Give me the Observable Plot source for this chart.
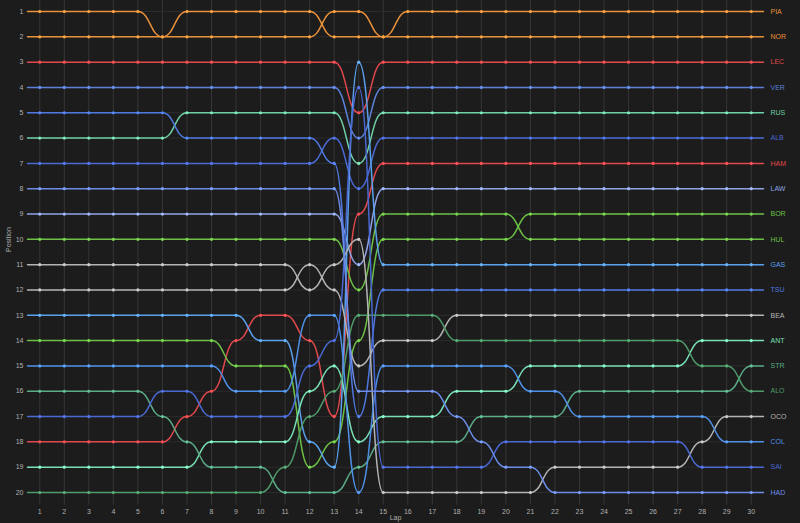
<!DOCTYPE html>
<html><head><meta charset="utf-8">
<script src="https://cdn.jsdelivr.net/npm/d3@7"></script>
<script src="https://cdn.jsdelivr.net/npm/@observablehq/plot@0.6"></script>
<style>
body{margin:0;background:#1c1c1c;}
#chart svg{display:block;}
</style>
</head><body><div id="chart"></div>
<script>
const laps = d3.range(1, 31);
const positionTicks = d3.range(1, 21);

const drivers = ["PIA","NOR","LEC","VER","RUS","ALB","HAM","LAW","BOR","HUL","GAS","TSU","BEA","ANT","STR","ALO","OCO","COL","SAI","HAD"];
const driverColors = ["#e8913a","#e8913a","#e0484c","#5b80d6","#6fd0a6","#4a6ad4","#e0484c","#8fa3e6","#6cc046","#6cc046","#5aa0ec","#4f78e0","#b4b4b4","#78e0b4","#5aab86","#4f9a6a","#b4b4b4","#4f90e6","#4a68d2","#6c8ce8"];

const pos_PIA = [1,1,1,1,1,2,1,1,1,1, 1,1,2,2,2,1,1,1,1,1, 1,1,1,1,1,1,1,1,1,1];
const pos_NOR = [2,2,2,2,2,2,2,2,2,2, 2,2,1,1,2,2,2,2,2,2, 2,2,2,2,2,2,2,2,2,2];
const pos_LEC = [3,3,3,3,3,3,3,3,3,3, 3,3,3,5,3,3,3,3,3,3, 3,3,3,3,3,3,3,3,3,3];
const pos_VER = [4,4,4,4,4,4,4,4,4,4, 4,4,4,6,4,4,4,4,4,4, 4,4,4,4,4,4,4,4,4,4];
const pos_RUS = [6,6,6,6,6,6,5,5,5,5, 5,5,5,7,5,5,5,5,5,5, 5,5,5,5,5,5,5,5,5,5];
const pos_ALB = [7,7,7,7,7,7,7,7,7,7, 7,7,6,8,6,6,6,6,6,6, 6,6,6,6,6,6,6,6,6,6];
const pos_HAM = [18,18,18,18,18,18,17,16,14,13, 13,14,17,9,7,7,7,7,7,7, 7,7,7,7,7,7,7,7,7,7];
const pos_LAW = [9,9,9,9,9,9,9,9,9,9, 9,9,9,11,8,8,8,8,8,8, 8,8,8,8,8,8,8,8,8,8];
const pos_BOR = [14,14,14,14,14,14,14,14,15,15, 15,19,18,14,10,10,10,10,10,10, 9,9,9,9,9,9,9,9,9,9];
const pos_HUL = [10,10,10,10,10,10,10,10,10,10, 10,10,10,12,9,9,9,9,9,9, 10,10,10,10,10,10,10,10,10,10];
const pos_GAS = [13,13,13,13,13,13,13,13,13,14, 14,18,19,3,11,11,11,11,11,11, 11,11,11,11,11,11,11,11,11,11];
const pos_TSU = [5,5,5,5,5,5,6,6,6,6, 6,6,7,17,12,12,12,12,12,12, 12,12,12,12,12,12,12,12,12,12];
const pos_BEA = [12,12,12,12,12,12,12,12,12,12, 12,11,12,15,14,14,14,13,13,13, 13,13,13,13,13,13,13,13,13,13];
const pos_ANT = [19,19,19,19,19,19,19,18,18,18, 18,16,15,18,17,17,17,16,16,16, 15,15,15,15,15,15,15,14,14,14];
const pos_STR = [16,16,16,16,16,17,18,19,19,19, 20,20,20,19,18,18,18,18,17,17, 17,17,16,16,16,16,16,16,16,15];
const pos_ALO = [20,20,20,20,20,20,20,20,20,20, 19,17,16,13,13,13,13,14,14,14, 14,14,14,14,14,14,14,15,15,16];
const pos_OCO = [11,11,11,11,11,11,11,11,11,11, 11,12,11,10,20,20,20,20,20,20, 20,19,19,19,19,19,19,18,17,17];
const pos_COL = [15,15,15,15,15,15,15,15,16,16, 16,13,13,20,15,15,15,15,15,15, 16,16,17,17,17,17,17,17,18,18];
const pos_SAI = [17,17,17,17,17,16,16,17,17,17, 17,15,14,4,19,19,19,19,19,18, 18,18,18,18,18,18,18,19,19,19];
const pos_HAD = [8,8,8,8,8,8,8,8,8,8, 8,8,8,16,16,16,16,17,18,19, 19,20,20,20,20,20,20,20,20,20];

const positionArrays = [pos_PIA,pos_NOR,pos_LEC,pos_VER,pos_RUS,pos_ALB,pos_HAM,pos_LAW,pos_BOR,pos_HUL,pos_GAS,pos_TSU,pos_BEA,pos_ANT,pos_STR,pos_ALO,pos_OCO,pos_COL,pos_SAI,pos_HAD];

const W = 800, H = 523;
const marks = [];

// grid
marks.push(Plot.ruleY(positionTicks, {x1: 0.5, x2: 30.5, stroke: "#2c2c2c", strokeWidth: 1}));
marks.push(Plot.ruleX(laps, {y1: 0.5, y2: 20.5, stroke: "#363636", strokeWidth: 1}));

drivers.forEach((d, i) => {
  const p = positionArrays[i];
  const c = driverColors[i];
  const rows = laps.map((lap, j) => ({lap, pos: p[j]}));
  const lineRows = [{lap: 0.5, pos: p[0]}, ...rows, {lap: 30.5, pos: p[29]}];
  marks.push(Plot.line(lineRows, {x: "lap", y: "pos", stroke: c, strokeWidth: 1.5, curve: "bump-x"}));
  marks.push(Plot.dot(rows, {x: "lap", y: "pos", r: 1.6, fill: d3.color(c).brighter(0.35).formatHex(), stroke: "none"}));
  marks.push(Plot.text([d], {x: 30.5, y: p[29], text: dd => dd, fill: c, dx: 7, textAnchor: "start", fontSize: 7}));
});

marks.push(Plot.axisY(positionTicks, {tickSize: 0, tickPadding: 4, fontSize: 7, fill: "#b0b0b0", label: null}));
marks.push(Plot.axisX(laps, {tickSize: 0, tickPadding: 17, fontSize: 7, fill: "#b0b0b0", label: null}));
marks.push(Plot.text(["Lap"], {frameAnchor: "bottom", dy: 27, fontSize: 7, fill: "#b0b0b0"}));
marks.push(Plot.text(["Position"], {frameAnchor: "left", dx: -19, rotate: -90, fontSize: 7, fill: "#b0b0b0"}));

const chart = Plot.plot({
  width: W,
  height: H,
  marginLeft: 27,
  marginRight: 37,
  marginTop: 11,
  marginBottom: 31,
  x: {domain: [0.5, 30.5]},
  y: {domain: [1, 20], reverse: true},
  style: {background: "#1c1c1c", color: "#b0b0b0", fontFamily: "Helvetica, Arial, 'Liberation Sans', sans-serif", fontSize: "7px", overflow: "visible"},
  marks
});
document.getElementById("chart").appendChild(chart);
</script>
</body></html>
